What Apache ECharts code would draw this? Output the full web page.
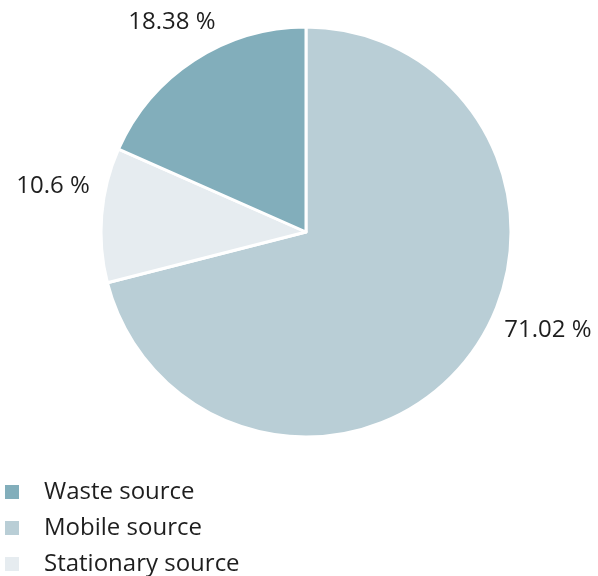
<!DOCTYPE html>
<html>
<head>
<meta charset="utf-8">
<script src="https://cdn.jsdelivr.net/npm/echarts@6/dist/echarts.min.js"></script>
<style>html,body{margin:0;padding:0;background:#fff}#c{width:598px;height:576px}</style>
</head>
<body>
<div id="c"></div>
<script>
const categories = ['Mobile source', 'Stationary source', 'Waste source'];
const values = [71.02, 10.6, 18.38];
const colors = ['#b9ced6', '#e6ecf0', '#82aebb'];
const legendOrder = ['Waste source', 'Mobile source', 'Stationary source'];

// label anchor placement (layout, not data)
const labelPos = {
  'Mobile source': [548, 330],
  'Stationary source': [53, 186],
  'Waste source': [172, 22]
};

const chart = echarts.init(document.getElementById('c'));
chart.setOption({
  animation: false,
  legend: {
    data: legendOrder,
    orient: 'vertical',
    left: 3,
    top: 480,
    padding: 0,
    itemWidth: 16,
    itemHeight: 16,
    itemGap: 12,
    icon: 'rect',
    textStyle: { fontFamily: 'Open Sans', fontSize: 24, lineHeight: 23, color: '#1e1e1e', padding: [0, 0, 0, 19] }
  },
  series: [{
    type: 'pie',
    center: [306, 232],
    radius: [0, 205],
    startAngle: 90,
    clockwise: true,
    data: categories.map((c, i) => ({ name: c, value: values[i], itemStyle: { color: colors[i] } })),
    itemStyle: { borderColor: '#fff', borderWidth: 3 },
    label: {
      show: true,
      position: 'outside',
      formatter: p => p.value + ' %',
      fontFamily: 'Open Sans',
      fontSize: 24,
      color: '#1e1e1e',
      overflow: 'none'
    },
    labelLine: { show: false },
    labelLayout: p => {
      const pos = labelPos[categories[p.dataIndex]];
      return { x: pos[0], y: pos[1], align: 'center', verticalAlign: 'middle', hideOverlap: false };
    },
    emphasis: { disabled: true }
  }]
});
</script>
</body>
</html>
